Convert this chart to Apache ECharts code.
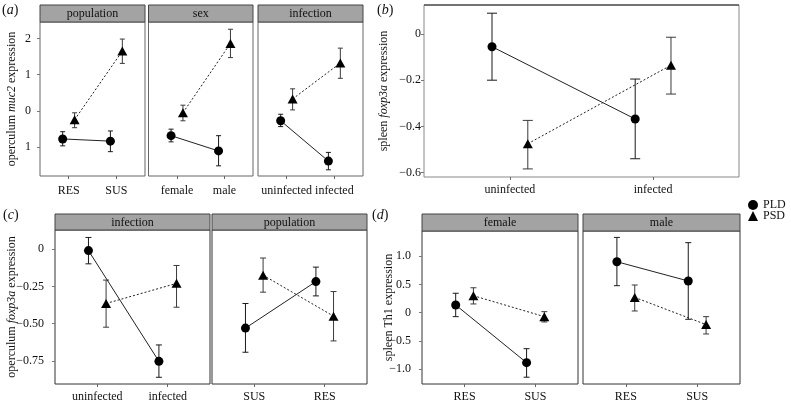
<!DOCTYPE html>
<html><head><meta charset="utf-8">
<script src="https://cdn.jsdelivr.net/npm/echarts@6/dist/echarts.min.js"></script>
<style>html,body{margin:0;padding:0;background:#fff}#c{width:791px;height:404px}</style>
</head><body><div id="c"></div>
<script>
// ---------- DATA: each point is [mean, lower, upper] ----------
// panel (a): operculum muc2
const aFacets = ['population', 'sex', 'infection'];
const aPopCats = ['RES', 'SUS'];
const aSexCats = ['female', 'male'];
const aInfCats = ['uninfected', 'infected'];
const aPopPLD = [[-0.77, -0.96, -0.57], [-0.83, -1.12, -0.55]];
const aPopPSD = [[-0.24, -0.46, -0.05], [1.65, 1.31, 1.98]];
const aSexPLD = [[-0.68, -0.85, -0.50], [-1.10, -1.51, -0.68]];
const aSexPSD = [[-0.05, -0.27, 0.16], [1.86, 1.47, 2.25]];
const aInfPLD = [[-0.27, -0.43, -0.09], [-1.38, -1.62, -1.14]];
const aInfPSD = [[0.33, 0.03, 0.61], [1.32, 0.90, 1.73]];
const aYTicks = [-1, 0, 1, 2];
const aYLabels = ['1', '0', '1', '2'];
// panel (b): spleen foxp3a
const bCats = ['uninfected', 'infected'];
const bPLD = [[-0.055, -0.20, 0.09], [-0.368, -0.54, -0.195]];
const bPSD = [[-0.475, -0.584, -0.374], [-0.135, -0.26, -0.014]];
const bYTicks = [-0.6, -0.4, -0.2, 0];
const bYLabels = ['\u22120.6', '\u22120.4', '\u22120.2', '0'];
// panel (c): operculum foxp3a
const cFacets = ['infection', 'population'];
const cInfCats = ['uninfected', 'infected'];
const cPopCats = ['SUS', 'RES'];
const cInfPLD = [[-0.01, -0.099, 0.078], [-0.753, -0.86, -0.643]];
const cInfPSD = [[-0.365, -0.524, -0.208], [-0.23, -0.39, -0.11]];
const cPopPLD = [[-0.53, -0.692, -0.365], [-0.218, -0.314, -0.121]];
const cPopPSD = [[-0.175, -0.289, -0.06], [-0.45, -0.616, -0.285]];
const cYTicks = [-0.75, -0.5, -0.25, 0];
const cYLabels = ['\u22120.75', '\u22120.50', '\u22120.25', '0'];
// panel (d): spleen Th1
const dFacets = ['female', 'male'];
const dCats = ['RES', 'SUS'];
const dFemPLD = [[0.136, -0.07, 0.343], [-0.883, -1.14, -0.636]];
const dFemPSD = [[0.30, 0.154, 0.44], [-0.07, -0.164, 0.018]];
const dMalPLD = [[0.90, 0.477, 1.33], [0.56, -0.117, 1.237]];
const dMalPSD = [[0.27, 0.03, 0.489], [-0.21, -0.376, -0.07]];
const dYTicks = [-1, -0.5, 0, 0.5, 1];
const dYLabels = ['\u22121.0', '\u22120.5', '0', '0.5', '1.0'];

// ---------- STYLE / LAYOUT ----------
const FONT = 'Liberation Serif';
const DODGE = 0.125;
const grids = [], xAxes = [], yAxes = [], series = [], graphics = [];

function facet(cfg) {
  const gi = grids.length;
  grids.push({left: cfg.left, top: cfg.top, width: cfg.width, height: cfg.height,
    show: true, borderColor: cfg.border || '#555', borderWidth: 1, backgroundColor: 'transparent',
    containLabel: false});
  const cats = cfg.cats;
  xAxes.push({type: 'value', gridIndex: gi, min: 0.4, max: 2.6, position: 'bottom',
    axisLine: {show: false, onZero: false}, splitLine: {show: false},
    axisTick: {show: true, customValues: [1, 2], length: 3, lineStyle: {color: '#666'}},
    axisLabel: {show: true, customValues: [1, 2], margin: cfg.xMargin || 7, color: '#111',
      fontFamily: FONT, fontSize: 12, formatter: v => cats[Math.round(v) - 1]}});
  const yax = {type: 'value', gridIndex: gi, min: cfg.ymin, max: cfg.ymax, position: 'left',
    axisLine: {show: false, onZero: false}, splitLine: {show: false},
    axisTick: {show: cfg.showY, customValues: cfg.yTicks, length: 3, lineStyle: {color: '#777'}},
    axisLabel: {show: cfg.showY, customValues: cfg.yTicks, margin: cfg.yMargin || 6, color: '#111',
      fontFamily: FONT, fontSize: 12,
      formatter: v => { const i = cfg.yTicks.findIndex(t => Math.abs(t - v) < 1e-9); return i >= 0 ? cfg.yLabels[i] : ''; }}};
  if (cfg.yName) {
    yax.name = cfg.yName; yax.nameLocation = 'middle'; yax.nameGap = cfg.nameGap;
    yax.nameMoveOverlap = false;
    yax.nameTextStyle = {fontFamily: FONT, fontSize: 12, color: '#111',
      rich: {n: {fontFamily: FONT, fontSize: 12, color: '#111'},
             i: {fontFamily: FONT, fontSize: 12, color: '#111', fontStyle: 'italic'}}};
  }
  yAxes.push(yax);
  const groups = [
    {name: 'PLD', data: cfg.pld, off: -DODGE, symbol: 'circle', size: 9, line: 'solid', ecol: '#1a1a1a'},
    {name: 'PSD', data: cfg.psd, off: DODGE, symbol: 'triangle', size: [10, 9], line: [2, 2], ecol: '#3a3a3a'}
  ];
  groups.forEach(g => {
    const capW = cfg.capW;
    series.push({type: 'custom', name: g.name + ' err', xAxisIndex: gi, yAxisIndex: gi, z: 2,
      silent: true,
      data: g.data.map((d, i) => [i + 1 + g.off, d[1], d[2]]),
      encode: {x: 0, y: [1, 2]},
      renderItem: (params, api) => {
        const x = api.value(0), lo = api.value(1), hi = api.value(2);
        const a = api.coord([x, lo]), b = api.coord([x, hi]);
        const w = capW / 2, st = {stroke: g.ecol, lineWidth: 1};
        return {type: 'group', children: [
          {type: 'line', shape: {x1: a[0], y1: a[1], x2: b[0], y2: b[1]}, style: st},
          {type: 'line', shape: {x1: a[0] - w, y1: a[1], x2: a[0] + w, y2: a[1]}, style: st},
          {type: 'line', shape: {x1: b[0] - w, y1: b[1], x2: b[0] + w, y2: b[1]}, style: st}
        ]};
      }});
    series.push({type: 'line', name: g.name, xAxisIndex: gi, yAxisIndex: gi, z: 3,
      data: g.data.map((d, i) => [i + 1 + g.off, d[0]]),
      symbol: g.symbol, symbolSize: g.size, showSymbol: true,
      itemStyle: {color: '#000'}, lineStyle: {color: '#222', width: 1, type: g.line},
      emphasis: {disabled: true}, animation: false});
  });
  if (cfg.strip) {
    graphics.push({type: 'rect', shape: {x: cfg.left, y: cfg.stripTop, width: cfg.width, height: cfg.top - cfg.stripTop},
      style: {fill: '#a3a3a3', stroke: '#444', lineWidth: 1}, z: 10});
    graphics.push({type: 'text', x: cfg.left + cfg.width / 2, y: (cfg.stripTop + cfg.top) / 2 + 0.5, z: 11,
      style: {text: cfg.strip, fontFamily: FONT, fontSize: 12, fill: '#111', textAlign: 'center', textVerticalAlign: 'middle'}});
  }
}

function letter(ch, x, y) {
  graphics.push({type: 'text', x: x, y: y, z: 11,
    style: {text: '{p|(}{i|' + ch + '}{p|)}', textVerticalAlign: 'top',
      rich: {p: {fontFamily: FONT, fontSize: 14, fill: '#111'}, i: {fontFamily: FONT, fontSize: 14, fill: '#111', fontStyle: 'italic'}}}});
}

// panel (a)
const aY = {ymin: -1.79, ymax: 2.45, yTicks: aYTicks, yLabels: aYLabels};
facet(Object.assign({left: 40, top: 22, width: 105, height: 154, stripTop: 5, strip: aFacets[0], cats: aPopCats,
  pld: aPopPLD, psd: aPopPSD, showY: true, capW: 5, border: '#666', xMargin: 9, yMargin: 9,
  yName: '{n|operculum }{i|muc2}{n| expression}', nameGap: 22}, aY));
facet(Object.assign({left: 148.5, top: 22, width: 104.5, height: 154, stripTop: 5, strip: aFacets[1], cats: aSexCats,
  pld: aSexPLD, psd: aSexPSD, showY: false, capW: 5, border: '#666', xMargin: 9}, aY));
facet(Object.assign({left: 258, top: 22, width: 105, height: 154, stripTop: 5, strip: aFacets[2], cats: aInfCats,
  pld: aInfPLD, psd: aInfPSD, showY: false, capW: 5, border: '#666', xMargin: 9}, aY));
// panel (b)
facet({left: 424, top: 5, width: 315, height: 172, cats: bCats, pld: bPLD, psd: bPSD,
  ymin: -0.619, ymax: 0.1255, yTicks: bYTicks, yLabels: bYLabels, showY: true, capW: 10, border: '#888',
  xMargin: 7, yMargin: 3, yName: '{n|spleen }{i|foxp3a}{n| expression}', nameGap: 34});
// panel (c)
const cY = {ymin: -0.905, ymax: 0.128, yTicks: cYTicks, yLabels: cYLabels};
facet(Object.assign({left: 55, top: 230, width: 155, height: 154, stripTop: 214, strip: cFacets[0], cats: cInfCats,
  pld: cInfPLD, psd: cInfPSD, showY: true, capW: 6, border: '#333', xMargin: 7, yMargin: 11,
  yName: '{n|operculum }{i|foxp3a}{n| expression}', nameGap: 37}, cY));
facet(Object.assign({left: 212, top: 230, width: 155, height: 154, stripTop: 214, strip: cFacets[1], cats: cPopCats,
  pld: cPopPLD, psd: cPopPSD, showY: false, capW: 6, border: '#333', xMargin: 7}, cY));
// panel (d)
const dY = {ymin: -1.26, ymax: 1.443, yTicks: dYTicks, yLabels: dYLabels};
facet(Object.assign({left: 422, top: 231, width: 156, height: 153, stripTop: 214, strip: dFacets[0], cats: dCats,
  pld: dFemPLD, psd: dFemPSD, showY: true, capW: 6, border: '#333', xMargin: 7, yMargin: 11,
  yName: '{n|spleen Th1 expression}', nameGap: 27}, dY));
facet(Object.assign({left: 583, top: 231, width: 157, height: 153, stripTop: 214, strip: dFacets[1], cats: dCats,
  pld: dMalPLD, psd: dMalPSD, showY: false, capW: 6, border: '#333', xMargin: 7}, dY));

// panel (b) top edge darker
graphics.push({type: 'line', shape: {x1: 424, y1: 5, x2: 739, y2: 5}, style: {stroke: '#222', lineWidth: 1}, z: 12});

letter('a', 2, 3);
letter('b', 377, 3);
letter('c', 3, 208);
letter('d', 372, 208);

const chart = echarts.init(document.getElementById('c'), null, {renderer: 'canvas'});
chart.setOption({
  animation: false,
  backgroundColor: '#fff',
  textStyle: {fontFamily: FONT},
  grid: grids, xAxis: xAxes, yAxis: yAxes, series: series,
  legend: {orient: 'vertical', left: 743, top: 194, itemWidth: 10, itemHeight: 10, itemGap: -1,
    data: [{name: 'PLD', icon: 'circle'}, {name: 'PSD', icon: 'triangle'}],
    textStyle: {fontFamily: FONT, fontSize: 12, color: '#111'}, selectedMode: false},
  graphic: graphics
});
</script></body></html>
